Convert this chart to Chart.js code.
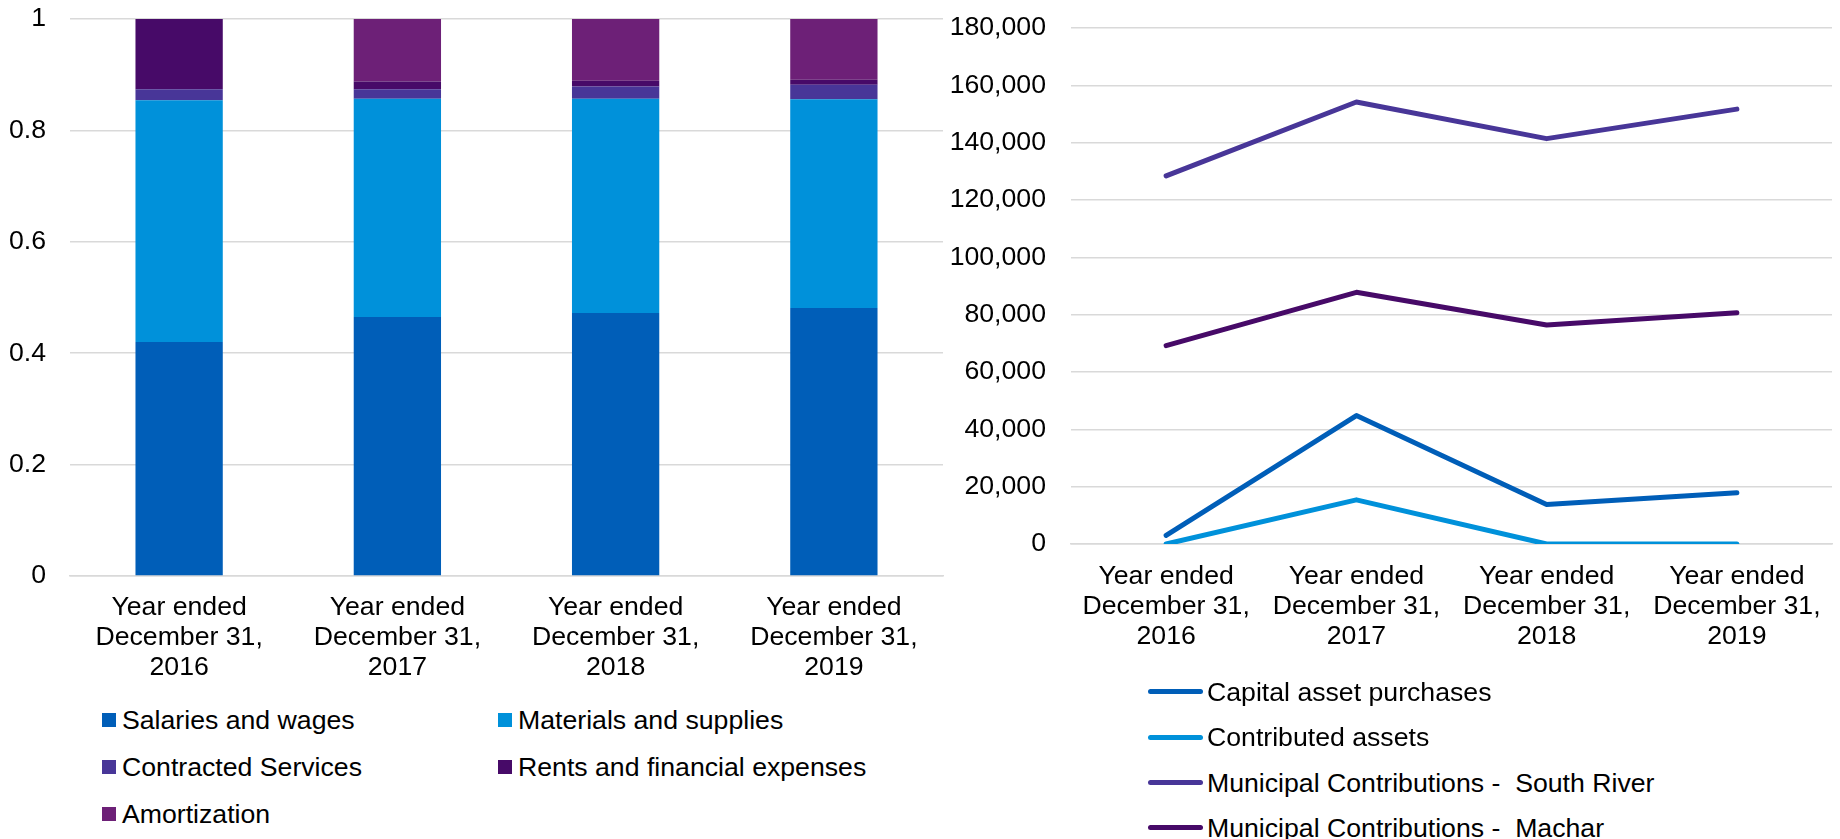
<!DOCTYPE html>
<html>
<head>
<meta charset="utf-8">
<script src="https://cdn.jsdelivr.net/npm/chart.js@4.4.1/dist/chart.umd.min.js"></script>
<style>
  html, body { margin: 0; padding: 0; background: #fff; }
  body { width: 1840px; height: 839px; position: relative; overflow: hidden; font-family: "Liberation Sans", Arial, sans-serif; }
  canvas { position: absolute; top: 0; }
  #costChart { left: 0; }
  #fundChart { left: 920px; }
  .key { position: absolute; font-size: 26.67px; line-height: 30px; height: 30px; color: #000; white-space: pre; }
  .swatch { position: absolute; }
</style>
</head>
<body>
<canvas id="costChart" width="960" height="700"></canvas>
<canvas id="fundChart" width="920" height="700"></canvas>
<div id="legends"></div>
<script>
// Categories
const years = [
  ['Year ended', 'December 31,', '2016'],
  ['Year ended', 'December 31,', '2017'],
  ['Year ended', 'December 31,', '2018'],
  ['Year ended', 'December 31,', '2019']
];

// Expense shares (left, 100% stacked)
const expenseNames = ['Salaries and wages', 'Materials and supplies', 'Contracted Services', 'Rents and financial expenses', 'Amortization'];
const salaries   = [0.420, 0.465, 0.472, 0.481];
const materials  = [0.434, 0.392, 0.385, 0.375];
const contracted = [0.020, 0.017, 0.022, 0.026];
const rents      = [0.126, 0.014, 0.010, 0.009];
const amort      = [0.000, 0.112, 0.111, 0.109];
const expenseColors = ['#005EB8', '#0091DA', '#483698', '#470A68', '#6D2077'];
const shareTicks = [0, 0.2, 0.4, 0.6, 0.8, 1];

// Capital funding (right, lines)
const fundNames = ['Capital asset purchases', 'Contributed assets', 'Municipal Contributions -  South River', 'Municipal Contributions -  Machar'];
const capitalPurchases = [3000, 44800, 13800, 17900];
const contributed      = [0, 15400, 0, 0];
const southRiver       = [128400, 154200, 141400, 151700];
const machar           = [69200, 87800, 76400, 80700];
const fundColors = ['#005EB8', '#0091DA', '#483698', '#470A68'];
const fundTicks = [0, 20000, 40000, 60000, 80000, 100000, 120000, 140000, 160000, 180000];

const FONT = { family: '"Liberation Sans", Arial, sans-serif', size: 26.67, lineHeight: 1.14 };
const GRID = '#D9D9D9';

Chart.defaults.color = '#000';
Chart.defaults.animation = false;

// fixed axis sizes so the plot areas land where they should
function fixHeight(h) {
  return s => { s.height = h; s.paddingLeft = 0; s.paddingRight = 0; };
}
function fixWidth(w) {
  return s => { s.width = w; s.paddingTop = 0; s.paddingBottom = 0; };
}

const expenseSeries = [salaries, materials, contracted, rents, amort];

new Chart(document.getElementById('costChart'), {
  type: 'bar',
  data: {
    labels: years,
    datasets: expenseSeries.map((vals, i) => ({
      label: expenseNames[i],
      data: vals,
      backgroundColor: expenseColors[i],
      borderWidth: 0,
      barPercentage: 0.4,
      categoryPercentage: 1
    }))
  },
  options: {
    responsive: false,
    devicePixelRatio: 1,
    layout: { padding: { top: 19, right: 17, left: 0, bottom: 0 } },
    plugins: { legend: { display: false }, tooltip: { enabled: false } },
    scales: {
      x: {
        stacked: true,
        grid: { display: false, drawTicks: false },
        border: { display: true, color: GRID, width: 1.5 },
        ticks: { font: FONT, padding: 16, maxRotation: 0, autoSkip: false },
        afterFit: fixHeight(124)
      },
      y: {
        stacked: true,
        min: 0,
        max: 1,
        afterBuildTicks: s => { s.ticks = shareTicks.map(v => ({ value: v })); },
        grid: { color: GRID, lineWidth: 1.5, drawTicks: false },
        border: { display: false },
        ticks: { font: FONT, padding: 24, callback: v => String(Math.round(v * 10) / 10) },
        afterFit: fixWidth(70)
      }
    }
  }
});

const fundSeries = [capitalPurchases, contributed, southRiver, machar];

new Chart(document.getElementById('fundChart'), {
  type: 'line',
  data: {
    labels: years,
    datasets: fundSeries.map((vals, i) => ({
      label: fundNames[i],
      data: vals,
      borderColor: fundColors[i],
      backgroundColor: fundColors[i],
      borderWidth: 5,
      borderCapStyle: 'round',
      borderJoinStyle: 'round',
      pointRadius: 0,
      tension: 0,
      order: fundSeries.length - i
    }))
  },
  options: {
    responsive: false,
    devicePixelRatio: 1,
    layout: { padding: { top: 28, right: 8, left: 0, bottom: 0 } },
    plugins: { legend: { display: false }, tooltip: { enabled: false } },
    scales: {
      x: {
        offset: true,
        grid: { display: false, drawTicks: false, offset: true },
        border: { display: true, color: GRID, width: 1.5 },
        ticks: { font: FONT, padding: 17, maxRotation: 0, autoSkip: false },
        afterFit: fixHeight(156)
      },
      y: {
        min: 0,
        max: 180000,
        afterBuildTicks: s => { s.ticks = fundTicks.map(v => ({ value: v })); },
        grid: { color: GRID, lineWidth: 1.5, drawTicks: false },
        border: { display: false },
        ticks: { font: FONT, padding: 25, callback: v => v.toLocaleString('en-US') },
        afterFit: fixWidth(151)
      }
    }
  }
});

// Legends
const legends = document.getElementById('legends');

function addKey(x, y, text) {
  const el = document.createElement('div');
  el.className = 'key';
  el.style.left = x + 'px';
  el.style.top = (y - 15) + 'px';
  el.textContent = text;
  legends.appendChild(el);
}

function addSwatch(x, y, w, h, color, radius) {
  const el = document.createElement('div');
  el.className = 'swatch';
  el.style.left = x + 'px';
  el.style.top = (y - h / 2) + 'px';
  el.style.width = w + 'px';
  el.style.height = h + 'px';
  el.style.background = color;
  el.style.borderRadius = radius + 'px';
  legends.appendChild(el);
}

// two-column square keys under the bar chart
const costCols = [102, 498];
const costRows = [720, 767, 814];
expenseNames.forEach((name, i) => {
  const x = costCols[i % 2];
  const y = costRows[Math.floor(i / 2)];
  addSwatch(x, y, 14, 14, expenseColors[i], 0);
  addKey(x + 20, y, name);
});

// stacked line keys under the line chart
const fundRows = [691.7, 737.3, 782.7, 827.7];
fundNames.forEach((name, i) => {
  addSwatch(1148, fundRows[i], 55, 5, fundColors[i], 2.5);
  addKey(1207, fundRows[i], name);
});
</script>
</body>
</html>
